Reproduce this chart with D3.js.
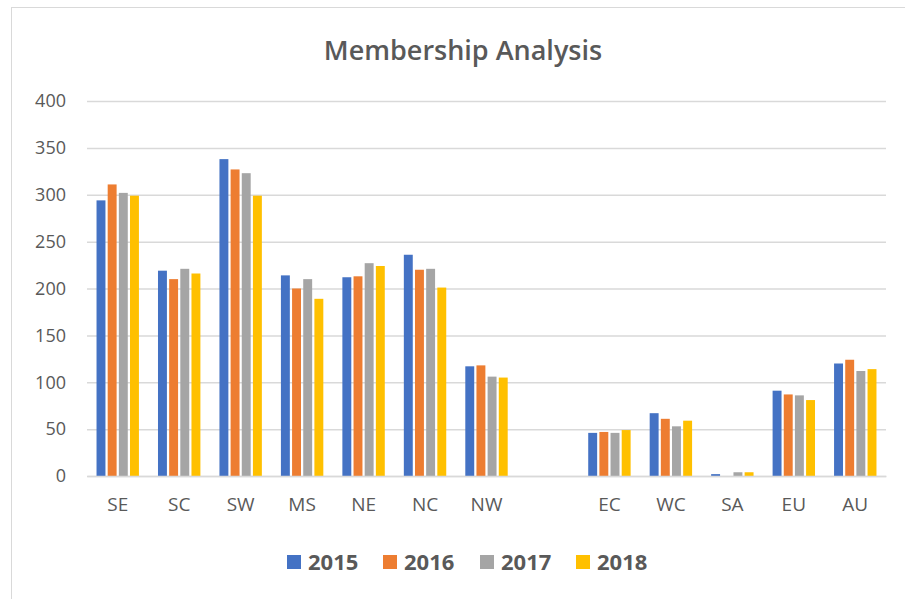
<!DOCTYPE html>
<html>
<head>
<meta charset="utf-8">
<script src="https://cdn.jsdelivr.net/npm/d3@7"></script>
<style>
  body { margin: 0; background: #fff; }
  svg { display: block; font-family: "Open Sans", sans-serif; }
</style>
</head>
<body>
<svg id="chart" width="905" height="599"></svg>
<script>
// Membership Analysis - clustered columns
var regions = ['SE', 'SC', 'SW', 'MS', 'NE', 'NC', 'NW', '', 'EC', 'WC', 'SA', 'EU', 'AU'];
var years = ['2015', '2016', '2017', '2018'];
var colors = ['#4472C4', '#ED7D31', '#A5A5A5', '#FFC000'];

var v2015 = [294, 219, 338, 214, 212, 236, 117, null, 46, 67, 2, 91, 120];
var v2016 = [311, 210, 327, 200, 213, 220, 118, null, 47, 61, 0, 87, 124];
var v2017 = [302, 221, 323, 210, 227, 221, 106, null, 46, 53, 4, 86, 112];
var v2018 = [299, 216, 299, 189, 224, 201, 105, null, 49, 59, 4, 81, 114];
var series = [v2015, v2016, v2017, v2018];

var yTicks = [0, 50, 100, 150, 200, 250, 300, 350, 400];

var svg = d3.select('#chart');
var plot = {left: 87, right: 886, top: 101, bottom: 476};

// chart frame
svg.append('rect')
    .attr('x', 11.5).attr('y', 7.5)
    .attr('width', 1000).attr('height', 700)
    .attr('fill', 'none')
    .attr('stroke', '#d9d9d9')
    .attr('stroke-width', 1);

svg.append('text')
    .attr('x', 463).attr('y', 60)
    .attr('text-anchor', 'middle')
    .attr('font-size', 27)
    .attr('font-weight', 600)
    .attr('fill', '#595959')
    .text('Membership Analysis');

var x = d3.scaleBand()
    .domain(regions)
    .range([plot.left, plot.right])
    .paddingInner(0.31)
    .paddingOuter(0.155);

var xInner = d3.scaleBand()
    .domain(years)
    .range([0, x.bandwidth()])
    .paddingInner(0.2);

var y = d3.scaleLinear()
    .domain([0, 400])
    .range([plot.bottom, plot.top]);

// gridlines + y labels
var yAxis = d3.axisLeft(y)
    .tickValues(yTicks)
    .tickSize(-(plot.right - plot.left))
    .tickPadding(21);

var gy = svg.append('g')
    .attr('transform', 'translate(' + plot.left + ',0)')
    .call(yAxis);
gy.select('.domain').remove();
gy.selectAll('.tick line')
    .attr('stroke', '#d9d9d9')
    .attr('stroke-width', 1.5);
gy.selectAll('.tick text')
    .attr('font-size', 18)
    .attr('fill', '#595959')
    .style('font-family', '"Open Sans", sans-serif');

// bars
var groups = svg.append('g').selectAll('g')
    .data(years)
  .enter()
  .append('g')
    .attr('fill', function(d, i) { return colors[i]; });

groups.each(function(yr, si) {
    var rows = regions.map(function(r, i) { return {region: r, value: series[si][i]}; })
        .filter(function(d) { return d.value !== null; });
    d3.select(this).selectAll('rect')
        .data(rows)
      .enter()
      .append('rect')
        .attr('x', function(d) { return x(d.region) + xInner(yr); })
        .attr('width', xInner.bandwidth())
        .attr('y', function(d) { return y(d.value); })
        .attr('height', function(d) { return y(0) - y(d.value); });
});

// x axis
var gx = svg.append('g')
    .attr('transform', 'translate(0,' + plot.bottom + ')')
    .call(d3.axisBottom(x).tickSize(0).tickPadding(22));
gx.select('.domain')
    .attr('stroke', '#d9d9d9')
    .attr('stroke-width', 1.5);
gx.selectAll('.tick text')
    .attr('font-size', 19)
    .attr('fill', '#595959')
    .style('font-family', '"Open Sans", sans-serif');

// legend
var legendX = [287, 383, 480, 576];
var legend = svg.append('g').selectAll('g')
    .data(years)
  .enter()
  .append('g')
    .attr('transform', function(d, i) { return 'translate(' + legendX[i] + ',555)'; });
legend.append('rect')
    .attr('width', 14).attr('height', 14)
    .attr('fill', function(d, i) { return colors[i]; });
legend.append('text')
    .attr('x', 21).attr('y', 15)
    .attr('font-size', 22)
    .attr('font-weight', 700)
    .attr('fill', '#595959')
    .text(function(d) { return d; });
</script>
</body>
</html>
